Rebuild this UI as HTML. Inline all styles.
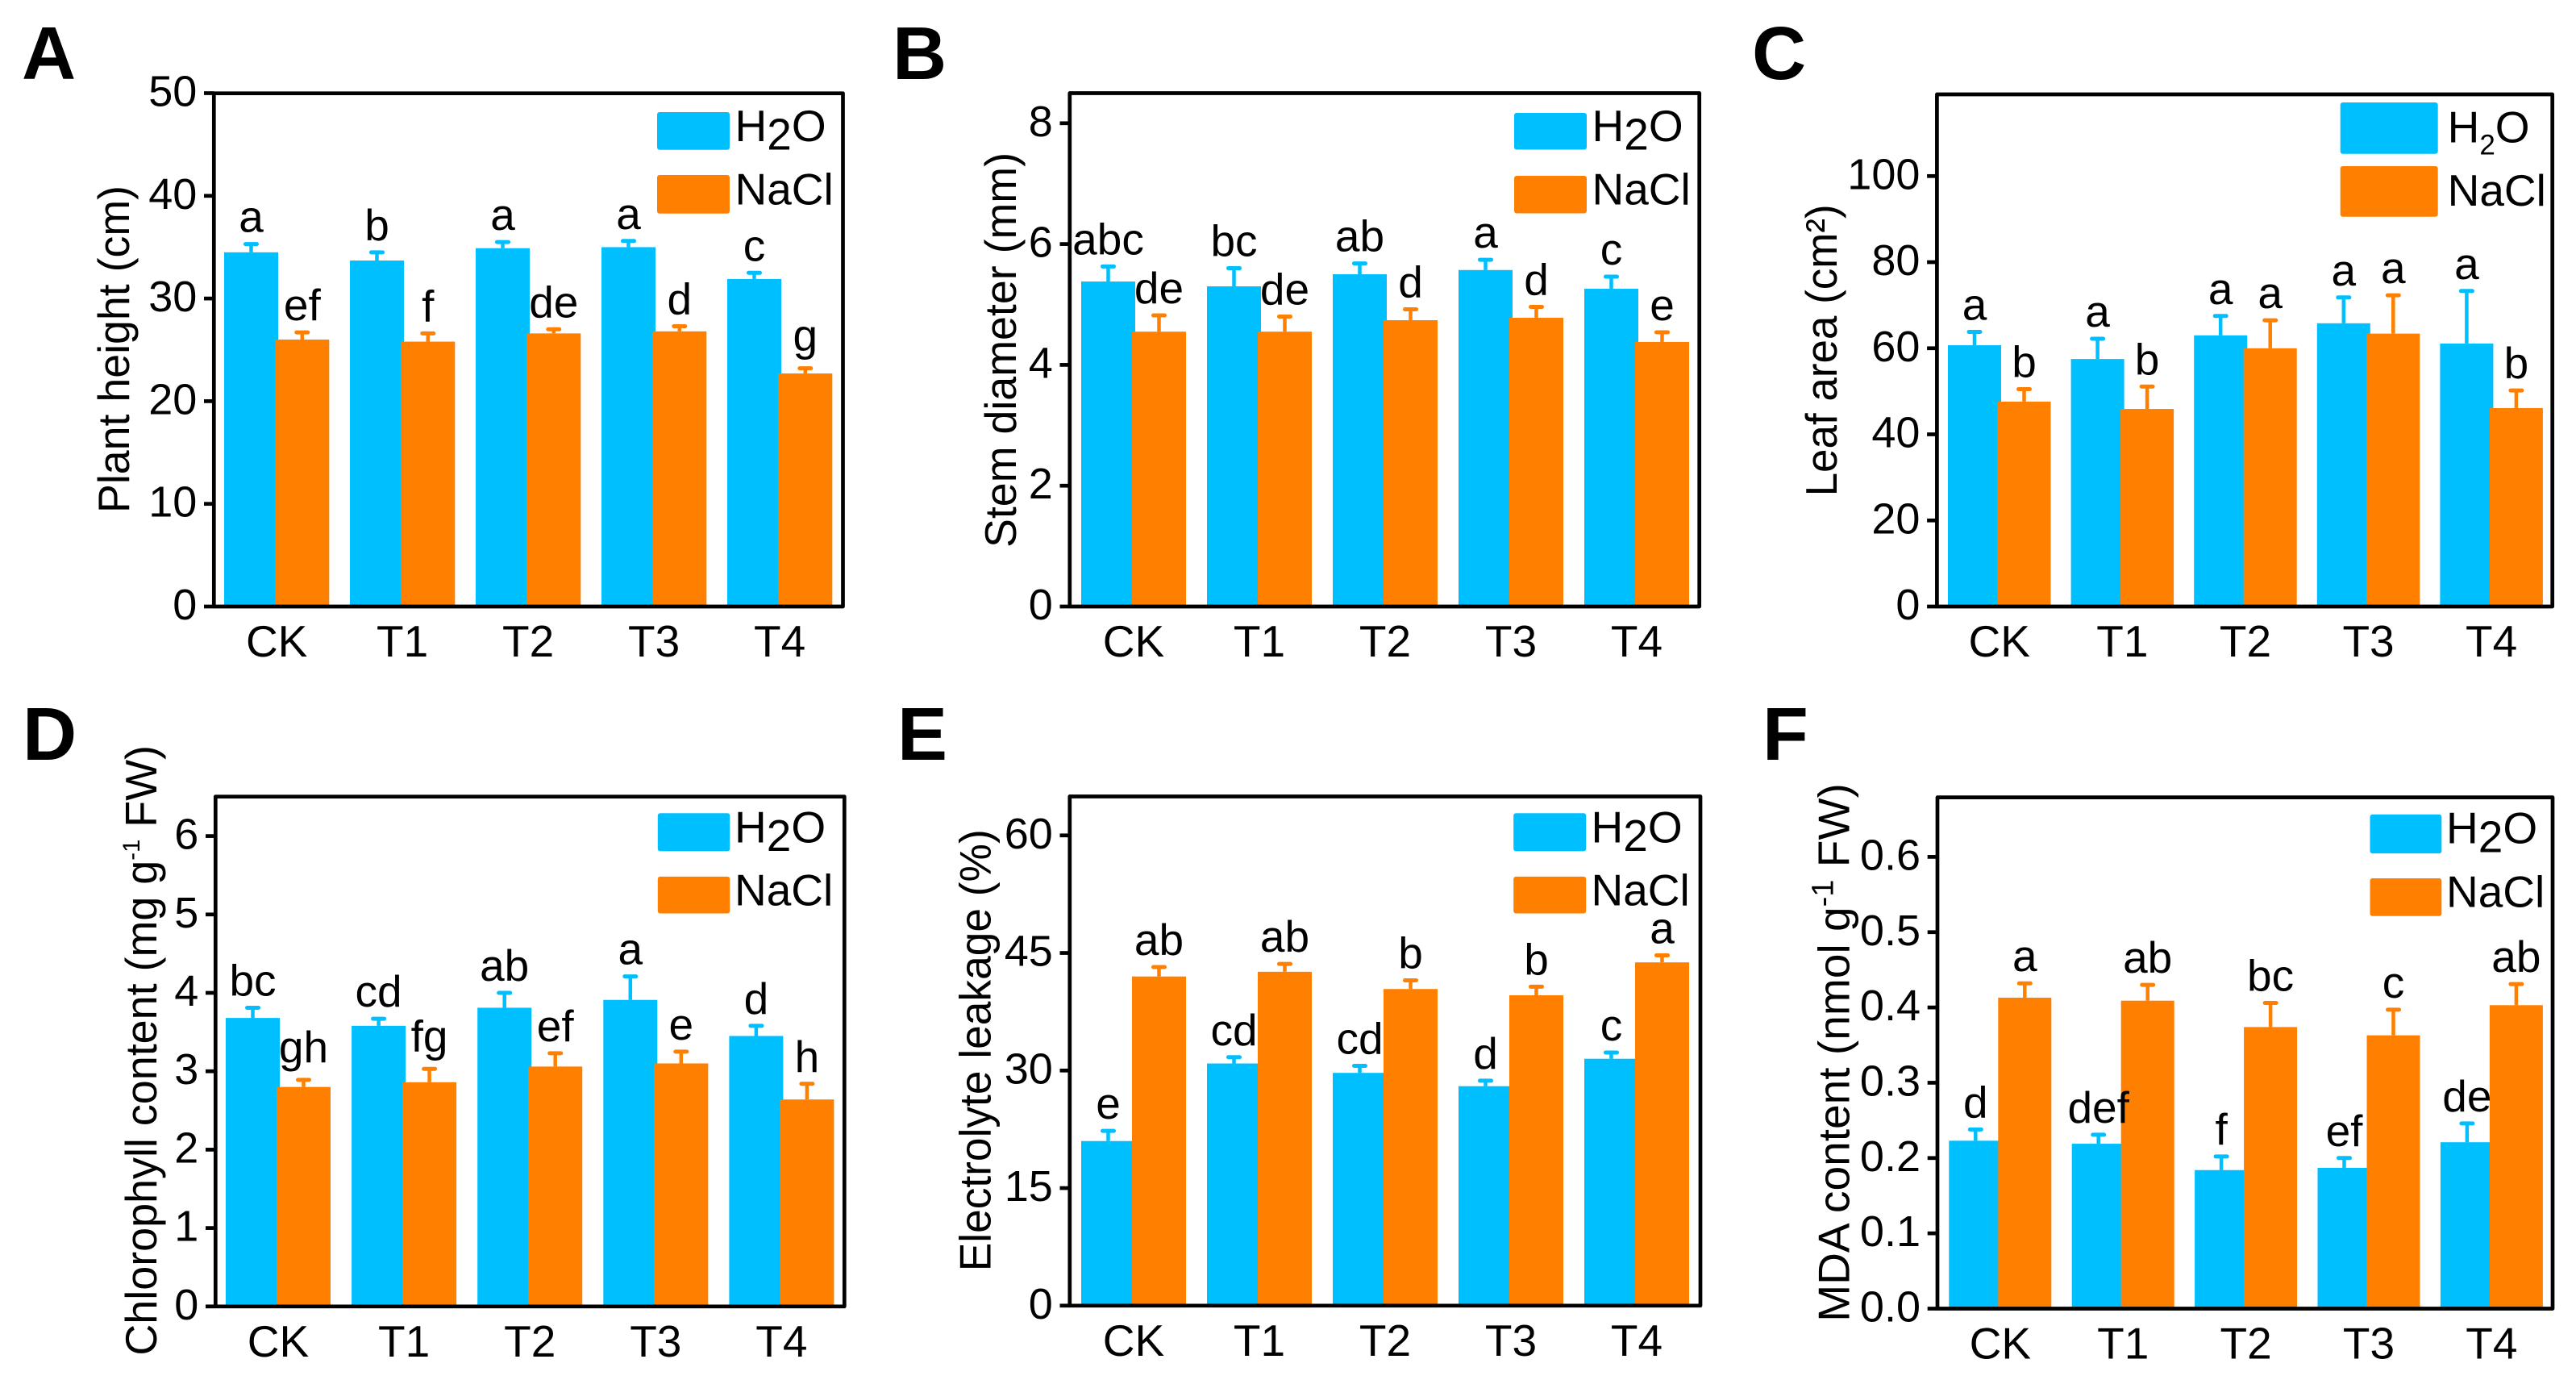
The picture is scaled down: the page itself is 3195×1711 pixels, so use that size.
<!DOCTYPE html>
<html lang="en">
<head>
<meta charset="utf-8">
<title>Plant growth under H2O and NaCl</title>
<style>
html,body{margin:0;padding:0;background:#fff;}
svg{display:block;font-family:"Liberation Sans",Arial,sans-serif;}
</style>
</head>
<body>
<svg id="figure" xmlns="http://www.w3.org/2000/svg" width="3195" height="1711" viewBox="0 0 3195 1711"></svg>
<script>
const categories = ['CK','T1','T2','T3','T4'];
const seriesNames = ['H2O','NaCl'];

const aTicks = [0,10,20,30,40,50];
const aH2o = [34.5,33.7,34.9,35.0,31.9];
const aNacl = [26.0,25.8,26.6,26.8,22.7];
const aH2oErr = [0.8,0.8,0.6,0.6,0.6];
const aNaclErr = [0.7,0.8,0.4,0.5,0.5];
const aH2oLetters = ['a','b','a','a','c'];
const aNaclLetters = ['ef','f','de','d','g'];

const bTicks = [0,2,4,6,8];
const bH2o = [5.38,5.30,5.50,5.57,5.26];
const bNacl = [4.55,4.55,4.74,4.78,4.38];
const bH2oErr = [0.25,0.30,0.18,0.17,0.20];
const bNaclErr = [0.27,0.25,0.18,0.18,0.16];
const bH2oLetters = ['abc','bc','ab','a','c'];
const bNaclLetters = ['de','de','d','d','e'];

const cTicks = [0,20,40,60,80,100];
const cH2o = [60.7,57.5,63.0,65.8,61.1];
const cNacl = [47.6,45.9,60.0,63.4,46.1];
const cH2oErr = [3.1,4.7,4.5,6.0,12.2];
const cNaclErr = [2.9,5.2,6.5,8.9,4.1];
const cH2oLetters = ['a','a','a','a','a'];
const cNaclLetters = ['b','b','a','a','b'];

const dTicks = [0,1,2,3,4,5,6];
const dH2o = [3.68,3.58,3.81,3.91,3.45];
const dNacl = [2.80,2.86,3.06,3.10,2.64];
const dH2oErr = [0.13,0.09,0.19,0.30,0.13];
const dNaclErr = [0.09,0.17,0.17,0.15,0.20];
const dH2oLetters = ['bc','cd','ab','a','d'];
const dNaclLetters = ['gh','fg','ef','e','h'];

const eTicks = [0,15,30,45,60];
const eH2o = [21.0,30.9,29.7,28.0,31.5];
const eNacl = [42.0,42.6,40.4,39.6,43.8];
const eH2oErr = [1.3,0.8,0.9,0.7,0.8];
const eNaclErr = [1.2,1.0,1.1,1.1,0.9];
const eH2oLetters = ['e','cd','cd','d','c'];
const eNaclLetters = ['ab','ab','b','b','a'];

const fTicks = [0.0,0.1,0.2,0.3,0.4,0.5,0.6];
const fH2o = [0.223,0.219,0.184,0.187,0.221];
const fNacl = [0.413,0.409,0.374,0.363,0.403];
const fH2oErr = [0.015,0.012,0.018,0.013,0.025];
const fNaclErr = [0.019,0.021,0.032,0.034,0.028];
const fH2oLetters = ['d','def','f','ef','de'];
const fNaclLetters = ['a','ab','bc','c','ab'];

const panels = [
  {id:'a', letter:'A', lx:27, ly:98, L:265.3, R:1045.5, T:115.7, B:752, unit:12.73, x0:278, step:156, off:63.3, bw:67,
   ticks:aTicks, dec:0, h:aH2o, n:aNacl, he:aH2oErr, ne:aNaclErr, hl:aH2oLetters, nl:aNaclLetters,
   title:['Plant height (cm)'], tx:160, ty:433, tlen:406,
   leg:{x:815, w:90, y1:139, h1:46.7, y2:217, h2:47.7, tx:911.5, by1:175, by2:253.5}},
  {id:'b', letter:'B', lx:1107, ly:98, L:1326.8, R:2107.7, T:115.5, B:752, unit:74.9, x0:1341, step:156, off:63, bw:67,
   ticks:bTicks, dec:0, h:bH2o, n:bNacl, he:bH2oErr, ne:bNaclErr, hl:bH2oLetters, nl:bNaclLetters,
   title:['Stem diameter (mm)'], tx:1260, ty:434, tlen:490,
   leg:{x:1878, w:90, y1:140, h1:45.5, y2:218, h2:46.5, tx:1974.5, by1:175, by2:253.5}},
  {id:'c', letter:'C', lx:2173, ly:98, L:2402.4, R:3165.7, T:117, B:752, unit:5.337, x0:2416, step:152.6, off:61.5, bw:66,
   ticks:cTicks, dec:0, h:cH2o, n:cNacl, he:cH2oErr, ne:cNaclErr, hl:cH2oLetters, nl:cNaclLetters,
   title:['Leaf area (cm\u00B2)'], tx:2278, ty:434.4, tlen:362,
   leg:{x:2902.7, w:121, y1:127, h1:63.7, y2:206, h2:62.7, tx:3035.6, by1:176.7, by2:255, smallSub:true}},
  {id:'d', letter:'D', lx:28, ly:942, L:267.3, R:1047.3, T:987.7, B:1619.8, unit:97.2, x0:280, step:156.1, off:63, bw:67,
   ticks:dTicks, dec:0, h:dH2o, n:dNacl, he:dH2oErr, ne:dNaclErr, hl:dH2oLetters, nl:dNaclLetters,
   title:['Chlorophyll content (mg g','-1',' FW)'], tx:194, ty:1302.3, tlen:756.6, supSize:30, supUp:21,
   leg:{x:815.8, w:89.5, y1:1008.2, h1:47.2, y2:1086.9, h2:45.6, tx:911, by1:1044.5, by2:1122.5}},
  {id:'e', letter:'E', lx:1113, ly:942, L:1326.8, R:2109, T:987.5, B:1618.8, unit:9.717, x0:1341, step:156, off:63, bw:67,
   ticks:eTicks, dec:0, h:eH2o, n:eNacl, he:eH2oErr, ne:eNaclErr, hl:eH2oLetters, nl:eNaclLetters,
   title:['Electrolyte leakage (%)'], tx:1228.7, ty:1302.3, tlen:548,
   leg:{x:1877.2, w:90, y1:1008.2, h1:47.2, y2:1086.9, h2:45.6, tx:1973.5, by1:1044.5, by2:1122.5}},
  {id:'f', letter:'F', lx:2186, ly:942, L:2403, R:3166, T:988.6, B:1622.5, unit:933.5, x0:2417.3, step:152.4, off:61, bw:66,
   ticks:fTicks, dec:1, h:fH2o, n:fNacl, he:fH2oErr, ne:fNaclErr, hl:fH2oLetters, nl:fNaclLetters,
   title:['MDA content (nmol g','-1',' FW)'], tx:2293.4, ty:1305, tlen:667.6, supSize:38, supUp:20,
   leg:{x:2939.5, w:88.8, y1:1009.8, h1:48.3, y2:1089, h2:46.7, tx:3034, by1:1045.6, by2:1124.3}}
];

const BLUE = '#00BFFF';
const ORANGE = '#FF8000';
const CAP_W = 14;
const NS = 'http://www.w3.org/2000/svg';
const svg = document.getElementById('figure');

function make(tag, attrs, parent, txt){
  const el = document.createElementNS(NS, tag);
  for (const k in attrs) el.setAttribute(k, attrs[k]);
  if (txt !== undefined) el.textContent = txt;
  parent.appendChild(el);
  return el;
}

function drawSeries(g, p, yOf, xOf, vals, errs, offset, color, key){
  vals.forEach(function(v, i){
    const x = xOf(i) + offset;
    const top = yOf(v);
    const bar = make('rect', {x:x, y:top, width:p.bw, height:yOf(0) - top, fill:color}, g);
    
    
  });
  vals.forEach(function(v, i){
    const cx = xOf(i) + offset + p.bw / 2;
    const etop = yOf(v + errs[i]);
    const stem = make('line', {x1:cx, x2:cx, y1:yOf(v), y2:etop, stroke:color, 'stroke-width':4.5}, g);
    
    
    const cap = make('line', {x1:cx - CAP_W / 2, x2:cx + CAP_W / 2, y1:etop, y2:etop, stroke:color, 'stroke-width':5, 'stroke-linecap':'round'}, g);
    
    
  });
}

function drawLetters(g, p, yOf, xOf, vals, errs, letters, offset, key){
  vals.forEach(function(v, i){
    const cx = xOf(i) + offset + p.bw / 2;
    const gap = letters[i].indexOf('g') >= 0 ? 22 : 15;
    const t = make('text', {x:cx, y:yOf(v + errs[i]) - gap, 'text-anchor':'middle', 'font-size':55, fill:'#000'}, g, letters[i]);
    
    
  });
}

panels.forEach(function(p){
  const g = make('g', {}, svg);
  
  

  const yOf = function(v){ return p.B - v * p.unit; };
  const xOf = function(i){ return p.x0 + i * p.step; };

  const letter = make('text', {x:p.lx, y:p.ly, 'font-size':93, 'font-weight':'bold', fill:'#000'}, g, p.letter);
  
  

  drawSeries(g, p, yOf, xOf, p.h, p.he, 0, BLUE, 'h2o');
  drawSeries(g, p, yOf, xOf, p.n, p.ne, p.off, ORANGE, 'nacl');
  drawLetters(g, p, yOf, xOf, p.h, p.he, p.hl, 0, 'h2o');
  drawLetters(g, p, yOf, xOf, p.n, p.ne, p.nl, p.off, 'nacl');

  const frame = make('rect', {x:p.L, y:p.T, width:p.R - p.L, height:p.B - p.T, fill:'none', stroke:'#000', 'stroke-width':4.7, 'stroke-linejoin':'round'}, g);
  
  

  p.ticks.forEach(function(t){
    const y = yOf(t);
    const mark = make('line', {x1:p.L - 12.3, x2:p.L, y1:y, y2:y, stroke:'#000', 'stroke-width':4.7}, g);
    
    
    const lab = make('text', {x:p.L - 21, y:y + 16, 'text-anchor':'end', 'font-size':54, fill:'#000'}, g, t.toFixed(p.dec));
    
    
  });

  categories.forEach(function(c, i){
    const lab = make('text', {x:xOf(i) + (p.off + p.bw) / 2, y:p.B + 62, 'text-anchor':'middle', 'font-size':55, fill:'#000'}, g, c);
    
    
  });

  const title = make('text', {transform:'translate(' + p.tx + ' ' + p.ty + ') rotate(-90)', x:0, y:0, 'text-anchor':'middle', 'font-size':55, fill:'#000', textLength:p.tlen, lengthAdjust:'spacingAndGlyphs'}, g);
  
  
  make('tspan', {}, title, p.title[0]);
  if (p.title.length > 1) {
    make('tspan', {'font-size':p.supSize, dy:-p.supUp}, title, p.title[1]);
    make('tspan', {dy:p.supUp}, title, p.title[2]);
  }

  const L = p.leg;
  const sw1 = make('rect', {x:L.x, y:L.y1, width:L.w, height:L.h1, rx:3, fill:BLUE}, g);
  
  
  const sw2 = make('rect', {x:L.x, y:L.y2, width:L.w, height:L.h2, rx:3, fill:ORANGE}, g);
  
  
  const t1 = make('text', {x:L.tx, y:L.by1, 'font-size':55, fill:'#000'}, g);
  
  
  make('tspan', {}, t1, 'H');
  make('tspan', {'font-size':L.smallSub ? 35 : 55, dy:L.smallSub ? 15 : 10.7}, t1, '2');
  make('tspan', {dy:L.smallSub ? -15 : -10.7}, t1, 'O');
  const t2 = make('text', {x:L.tx, y:L.by2, 'font-size':55, fill:'#000'}, g, seriesNames[1]);
  
  
});
</script>
</body>
</html>
